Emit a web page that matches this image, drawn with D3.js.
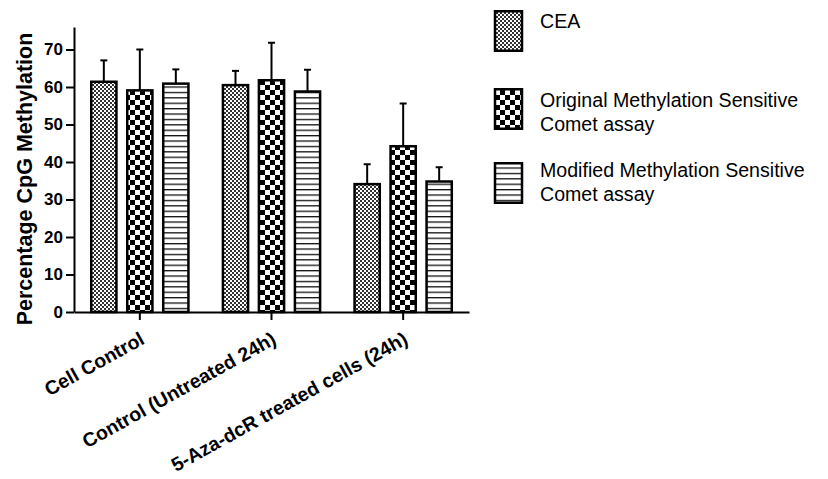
<!DOCTYPE html>
<html>
<head>
<meta charset="utf-8">
<script src="https://cdn.jsdelivr.net/npm/d3@7"></script>
<style>
  body { margin: 0; background: #fff; }
  svg { display: block; font-family: Arial, "Liberation Sans", sans-serif; }
</style>
</head>
<body>
<div class="chart"></div>
<script>
const width = 828;
const height = 479;

const groups = ['Cell Control', 'Control (Untreated 24h)', '5-Aza-dcR treated cells (24h)'];
const series = ['CEA', 'Original', 'Modified'];
const legendLabels = [['CEA'], ['Original Methylation Sensitive', 'Comet assay'], ['Modified Methylation Sensitive', 'Comet assay']];
const ceaValues = [61.4, 60.5, 34.1];
const ceaErrors = [5.7, 3.8, 5.3];
const originalValues = [59.1, 61.8, 44.2];
const originalErrors = [10.9, 10.0, 11.4];
const modifiedValues = [60.9, 58.8, 34.8];
const modifiedErrors = [3.8, 5.8, 3.8];
const yTicks = [0, 10, 20, 30, 40, 50, 60, 70];

const svg = d3.select('.chart')
  .append('svg')
  .attr('width', width)
  .attr('height', height);

// patterns
const defs = svg.append('defs');
const fine = defs.append('pattern').attr('id', 'pat-CEA')
  .attr('patternUnits', 'userSpaceOnUse').attr('width', 4).attr('height', 4);
fine.append('rect').attr('width', 4).attr('height', 4).attr('fill', '#fff');
fine.append('rect').attr('width', 2).attr('height', 2).attr('fill', '#333');
fine.append('rect').attr('x', 2).attr('y', 2).attr('width', 2).attr('height', 2).attr('fill', '#333');

const coarse = defs.append('pattern').attr('id', 'pat-Original')
  .attr('patternUnits', 'userSpaceOnUse').attr('width', 10).attr('height', 10);
coarse.append('rect').attr('width', 10).attr('height', 10).attr('fill', '#fff');
coarse.append('rect').attr('width', 5).attr('height', 5).attr('fill', '#000');
coarse.append('rect').attr('x', 5).attr('y', 5).attr('width', 5).attr('height', 5).attr('fill', '#000');

const lines = defs.append('pattern').attr('id', 'pat-Modified')
  .attr('patternUnits', 'userSpaceOnUse').attr('width', 10).attr('height', 5.4);
lines.append('rect').attr('width', 10).attr('height', 5.4).attr('fill', '#fff');
lines.append('rect').attr('width', 10).attr('height', 1.3).attr('fill', '#111');

const rows = series.map((s, si) => {
  const vals = [ceaValues, originalValues, modifiedValues][si];
  const errs = [ceaErrors, originalErrors, modifiedErrors][si];
  return groups.map((g, gi) => ({ group: g, series: s, value: vals[gi], err: errs[gi] }));
}).flat();

// scales
const xScale = d3.scaleBand().domain(groups).range([74, 469]);
const xInner = d3.scaleBand().domain(series).range([-54, 54]).paddingInner(0.3).paddingOuter(0.15);
const yScale = d3.scaleLinear().domain([0, 76]).range([312, 27]);

// bars
const barX = (d) => xScale(d.group) + xScale.bandwidth() / 2 + xInner(d.series);
svg.append('g')
  .selectAll('rect')
  .data(rows)
  .enter()
  .append('rect')
  .attr('x', barX)
  .attr('y', (d) => yScale(d.value))
  .attr('width', xInner.bandwidth())
  .attr('height', (d) => yScale(0) - yScale(d.value))
  .attr('fill', (d) => `url(#pat-${d.series})`)
  .attr('stroke', '#000')
  .attr('stroke-width', 2.5);

// error bars (upper only)
const err = svg.append('g').attr('stroke', '#000').attr('stroke-width', 2);
rows.forEach((d) => {
  const cx = barX(d) + xInner.bandwidth() / 2;
  err.append('line').attr('x1', cx).attr('x2', cx)
    .attr('y1', yScale(d.value)).attr('y2', yScale(d.value + d.err));
  err.append('line').attr('x1', cx - 3.5).attr('x2', cx + 3.5)
    .attr('y1', yScale(d.value + d.err)).attr('y2', yScale(d.value + d.err));
});

// y axis
const yAxis = d3.axisLeft(yScale).tickValues(yTicks).tickSize(8).tickPadding(3).tickSizeOuter(0);
const yg = svg.append('g').attr('transform', 'translate(74, 0)').call(yAxis);
yg.select('.domain').attr('stroke-width', 2);
yg.selectAll('.tick line').attr('stroke-width', 2);
yg.selectAll('.tick text').attr('font-size', 17).attr('font-weight', 'bold').attr('fill', '#000')
  .attr('font-family', 'Arial, Liberation Sans');

// x axis
const xAxis = d3.axisBottom(xScale).tickSize(8).tickSizeOuter(0).tickFormat('');
const xg = svg.append('g').attr('transform', 'translate(0, 312)').call(xAxis);
xg.select('.domain').attr('stroke-width', 2);
xg.selectAll('.tick line').attr('stroke-width', 2);
xg.selectAll('.tick')
  .append('text')
  .attr('fill', '#000')
  .attr('font-size', 19.5)
  .attr('font-weight', 'bold')
  .attr('font-family', 'Arial, Liberation Sans')
  .attr('text-anchor', 'end')
  .attr('transform', 'translate(6, 31) rotate(-29)')
  .text((d) => d);

// y title
svg.append('text')
  .attr('transform', 'translate(32, 179) rotate(-90)')
  .attr('text-anchor', 'middle')
  .attr('font-size', 21.5)
  .attr('font-weight', 'bold')
  .text('Percentage CpG Methylation');

// legend
const legendTops = [10, 88, 162];
const legendBaselines = [28, 107, 177];
const legend = svg.append('g');
series.forEach((s, i) => {
  legend.append('rect')
    .attr('x', 495).attr('y', legendTops[i] + 1.25)
    .attr('width', 27).attr('height', 39.5)
    .attr('fill', `url(#pat-${s})`)
    .attr('stroke', '#000').attr('stroke-width', 2.5);
  legend.append('text')
    .attr('x', 540).attr('y', legendBaselines[i])
    .attr('font-size', 19.6)
    .selectAll('tspan')
    .data(legendLabels[i])
    .enter()
    .append('tspan')
    .attr('x', 540)
    .attr('dy', (_d, j) => (j === 0 ? 0 : 24))
    .text((d) => d);
});
</script>
</body>
</html>
